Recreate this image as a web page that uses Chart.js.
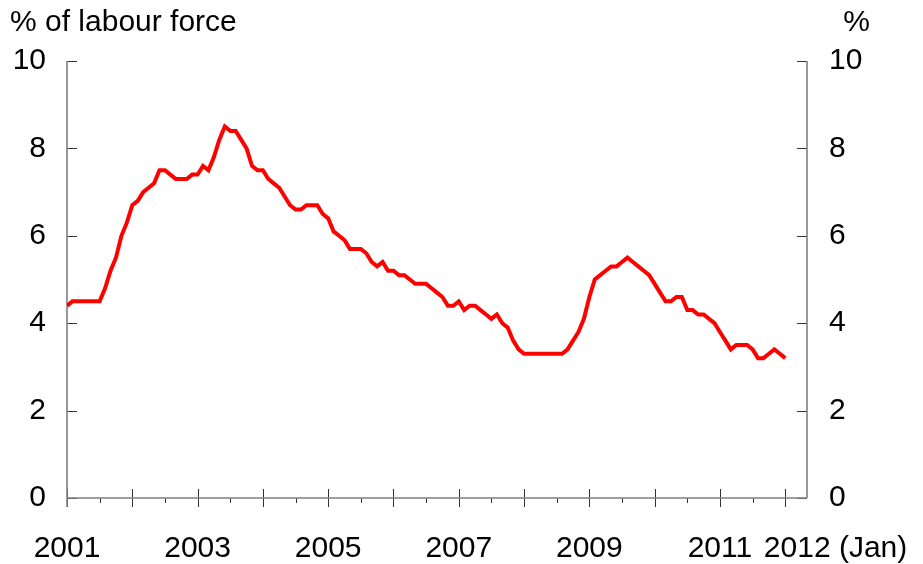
<!DOCTYPE html>
<html>
<head>
<meta charset="utf-8">
<script src="https://cdn.jsdelivr.net/npm/chart.js@4.4.1/dist/chart.umd.min.js"></script>
<style>
  html, body { margin: 0; padding: 0; background: #fff; }
  #wrap { width: 923px; height: 564px; }
</style>
</head>
<body>
<div id="wrap"><canvas id="graficaParo" width="923" height="564"></canvas></div>
<script>
// Unemployment rate, monthly, Jan 2001 - Jan 2012
const rate2001 = [4.4, 4.5, 4.5, 4.5, 4.5, 4.5, 4.5, 4.8, 5.2, 5.5, 6.0, 6.3];
const rate2002 = [6.7, 6.8, 7.0, 7.1, 7.2, 7.5, 7.5, 7.4, 7.3, 7.3, 7.3, 7.4];
const rate2003 = [7.4, 7.6, 7.5, 7.8, 8.2, 8.5, 8.4, 8.4, 8.2, 8.0, 7.6, 7.5];
const rate2004 = [7.5, 7.3, 7.2, 7.1, 6.9, 6.7, 6.6, 6.6, 6.7, 6.7, 6.7, 6.5];
const rate2005 = [6.4, 6.1, 6.0, 5.9, 5.7, 5.7, 5.7, 5.6, 5.4, 5.3, 5.4, 5.2];
const rate2006 = [5.2, 5.1, 5.1, 5.0, 4.9, 4.9, 4.9, 4.8, 4.7, 4.6, 4.4, 4.4];
const rate2007 = [4.5, 4.3, 4.4, 4.4, 4.3, 4.2, 4.1, 4.2, 4.0, 3.9, 3.6, 3.4];
const rate2008 = [3.3, 3.3, 3.3, 3.3, 3.3, 3.3, 3.3, 3.3, 3.4, 3.6, 3.8, 4.1];
const rate2009 = [4.6, 5.0, 5.1, 5.2, 5.3, 5.3, 5.4, 5.5, 5.4, 5.3, 5.2, 5.1];
const rate2010 = [4.9, 4.7, 4.5, 4.5, 4.6, 4.6, 4.3, 4.3, 4.2, 4.2, 4.1, 4.0];
const rate2011 = [3.8, 3.6, 3.4, 3.5, 3.5, 3.5, 3.4, 3.2, 3.2, 3.3, 3.4, 3.3];
const rate2012 = [3.2];

const firstYear = 2001;
const labelYears = [2001, 2003, 2005, 2007, 2009, 2011, 2012];
const lastLabelSuffix = ' (Jan)';
const yTicks = [0, 2, 4, 6, 8, 10];
const leftTitle = '% of labour force';
const rightTitle = '%';
const xMaxMonth = 136; // the axis runs on a few months past Jan 2012

const rates = [].concat(rate2001, rate2002, rate2003, rate2004, rate2005, rate2006,
                        rate2007, rate2008, rate2009, rate2010, rate2011, rate2012);
const puntos = rates.map((v, i) => ({ x: i, y: v }));

const FONT = '"Liberation Sans", Arial, sans-serif';
const FONT_SIZE = 30;
const AXIS_COLOR = '#808080';
const TICK_COLOR = '#333333';

// Axis lines, tick marks and the free text
const ejes = {
    id: 'ejes',
    beforeDatasetsDraw(chart) {
        const { ctx, chartArea: a, scales } = chart;
        const x = scales.x, y = scales.y;
        ctx.save();

        // tick marks
        ctx.strokeStyle = TICK_COLOR;
        ctx.lineWidth = 1;
        ctx.beginPath();
        yTicks.forEach(t => {
            const py = Math.round(y.getPixelForValue(t)) + 0.5;
            ctx.moveTo(a.left, py); ctx.lineTo(a.left + 10, py);
            ctx.moveTo(a.right, py); ctx.lineTo(a.right - 10, py);
        });
        for (let m = 0; m <= rates.length - 1; m += 6) {
            const px = Math.round(x.getPixelForValue(m)) + 0.5;
            if (m % 12 === 0) {
                ctx.moveTo(px, a.bottom - 9); ctx.lineTo(px, a.bottom + 9);
            } else {
                ctx.moveTo(px, a.bottom); ctx.lineTo(px, a.bottom + 5);
            }
        }
        ctx.stroke();

        // axis lines
        ctx.strokeStyle = AXIS_COLOR;
        ctx.lineWidth = 1.6;
        ctx.beginPath();
        ctx.moveTo(a.left, a.top); ctx.lineTo(a.left, a.bottom + 9);
        ctx.moveTo(a.left, a.bottom); ctx.lineTo(a.right, a.bottom);
        ctx.moveTo(a.right, a.top); ctx.lineTo(a.right, a.bottom);
        ctx.stroke();
        ctx.restore();
    },
    afterDraw(chart) {
        const { ctx, scales } = chart;
        const x = scales.x;
        ctx.save();
        ctx.fillStyle = '#000';
        ctx.font = FONT_SIZE + 'px ' + FONT;
        ctx.textBaseline = 'alphabetic';

        ctx.textAlign = 'left';
        ctx.fillText(leftTitle, 10, 31);
        ctx.textAlign = 'right';
        ctx.fillText(rightTitle, 870, 31);

        labelYears.forEach((yr, i) => {
            const px = x.getPixelForValue((yr - firstYear) * 12);
            const txt = String(yr);
            if (i === labelYears.length - 1) {
                const w = ctx.measureText(txt).width;
                ctx.textAlign = 'left';
                ctx.fillText(txt + lastLabelSuffix, px - w / 2 + 12, 557);
            } else {
                ctx.textAlign = 'center';
                ctx.fillText(txt, px, 557);
            }
        });
        ctx.restore();
    }
};

document.addEventListener('DOMContentLoaded', function() {
    const ctxParo = document.getElementById('graficaParo');

    new Chart(ctxParo.getContext('2d'), {
        type: 'line',
        data: {
            datasets: [{
                data: puntos,
                borderColor: '#ff0000',
                borderWidth: 4,
                pointRadius: 0,
                tension: 0,
                fill: false,
                yAxisID: 'y'
            }]
        },
        options: {
            responsive: false,
            animation: false,
            devicePixelRatio: 1,
            layout: { padding: { top: 61, left: 0, right: 0, bottom: 0 } },
            plugins: {
                legend: { display: false },
                tooltip: { enabled: false }
            },
            scales: {
                x: {
                    type: 'linear',
                    min: 0,
                    max: xMaxMonth,
                    grid: { display: false },
                    border: { display: false },
                    ticks: { display: false },
                    afterFit: s => { s.height = 66; }
                },
                y: {
                    position: 'left',
                    min: 0,
                    max: 10,
                    grid: { display: false, drawTicks: false },
                    border: { display: false },
                    ticks: { stepSize: 2, padding: 21, color: '#000', font: { family: FONT, size: FONT_SIZE } },
                    afterFit: s => { s.width = 67; }
                },
                y2: {
                    position: 'right',
                    min: 0,
                    max: 10,
                    grid: { display: false, drawTicks: false },
                    border: { display: false },
                    ticks: { stepSize: 2, padding: 22, color: '#000', font: { family: FONT, size: FONT_SIZE } },
                    afterFit: s => { s.width = 116; }
                }
            }
        },
        plugins: [ejes]
    });
});
</script>
</body>
</html>
